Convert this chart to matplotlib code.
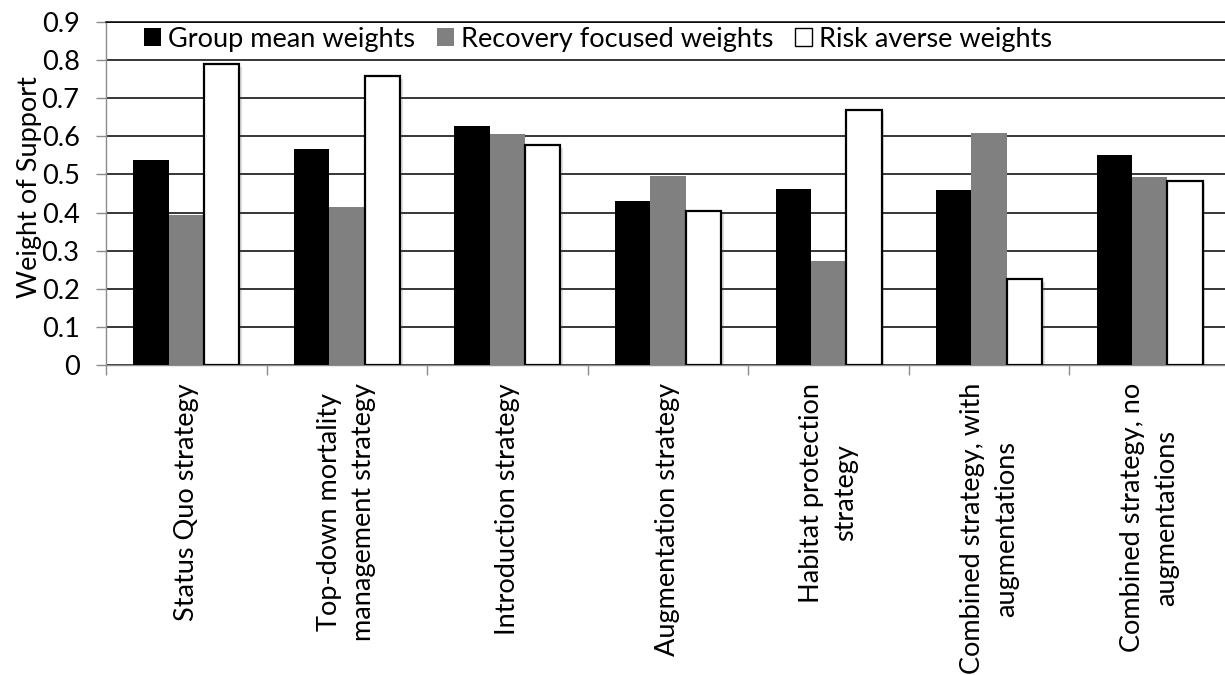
import numpy as np
import matplotlib
matplotlib.use("Agg")
import matplotlib.pyplot as plt
import matplotlib.patheffects as pe
from matplotlib.ticker import FixedLocator

plt.rcParams['font.family'] = ['Lato', 'DejaVu Sans']

# strategies and the weight of support under each weighting scheme
strategies = [
    "Status Quo strategy",
    "Top-down mortality\nmanagement strategy",
    "Introduction strategy",
    "Augmentation strategy",
    "Habitat protection\nstrategy",
    "Combined strategy, with\naugmentations",
    "Combined strategy, no\naugmentations",
]
group_mean = [0.537, 0.568, 0.627, 0.431, 0.463, 0.460, 0.550]
recovery_focused = [0.393, 0.415, 0.605, 0.495, 0.273, 0.609, 0.492]
risk_averse = [0.790, 0.758, 0.576, 0.404, 0.668, 0.225, 0.484]

series_names = ["Group mean weights", "Recovery focused weights", "Risk averse weights"]
yticks = [0, 0.1, 0.2, 0.3, 0.4, 0.5, 0.6, 0.7, 0.8, 0.9]
ytick_labels = ["0", "0.1", "0.2", "0.3", "0.4", "0.5", "0.6", "0.7", "0.8", "0.9"]

fs = 19.5

fig = plt.figure(figsize=(12.25, 6.75), dpi=100)
ax = fig.add_axes([106 / 1225, 1 - 365 / 675, 1124 / 1225, 343 / 675])

x = np.arange(len(strategies))
w = 0.22
shadow = [pe.SimplePatchShadow(offset=(2, -2), alpha=0.18), pe.Normal()]

b1 = ax.bar(x - w, group_mean, w, color="black", linewidth=0, zorder=3)
b2 = ax.bar(x, recovery_focused, w, color="#808080", linewidth=0, zorder=3)
b3 = ax.bar(x + w, risk_averse, w, color="white", edgecolor="black",
            linewidth=1.6, zorder=3)
for bar in b3:
    bar.set_path_effects(shadow)

ax.set_xlim(-0.5, len(strategies) - 0.5)
ax.set_ylim(0, 0.9)

# y axis
ax.set_yticks(yticks)
ax.set_yticklabels(ytick_labels)
ax.tick_params(axis="y", direction="out", length=7, width=1, color="#8c8c8c",
               labelsize=fs, pad=12)
ax.set_ylabel("Weight of Support", fontsize=fs)
ax.yaxis.set_label_coords(-0.057, 0.52)
ax.grid(axis="y", color="black", linewidth=1.1, zorder=0)
ax.set_axisbelow(True)

# x axis: labels at category centres, tick marks between categories
ax.set_xticks(x)
ax.set_xticklabels(strategies, rotation=90, fontsize=fs, ha="center", va="top",
                   multialignment="center", linespacing=1.45)
ax.tick_params(axis="x", which="major", length=0, pad=13)
ax.xaxis.set_minor_locator(FixedLocator(np.arange(-0.5, len(strategies), 1.0)))
ax.tick_params(axis="x", which="minor", direction="out", length=7, width=1,
               color="#8c8c8c")

ax.spines["right"].set_visible(False)
ax.spines["top"].set_color("black")
ax.spines["top"].set_linewidth(1.1)
for side in ["left", "bottom"]:
    ax.spines[side].set_color("#8c8c8c")
    ax.spines[side].set_linewidth(1)

leg = ax.legend([b1, b2, b3], series_names, loc="center left",
                bbox_to_anchor=(144 / 1225, 1 - 39 / 675),
                bbox_transform=fig.transFigure, ncol=3, frameon=False,
                fontsize=fs, handlelength=0.63, handleheight=0.63,
                handletextpad=0.26, columnspacing=0.8, borderpad=0,
                borderaxespad=0)
for h in leg.legend_handles:
    h.set_path_effects([])
leg.legend_handles[2].set_linewidth(1.0)

fig.savefig("out.png", dpi=100)
